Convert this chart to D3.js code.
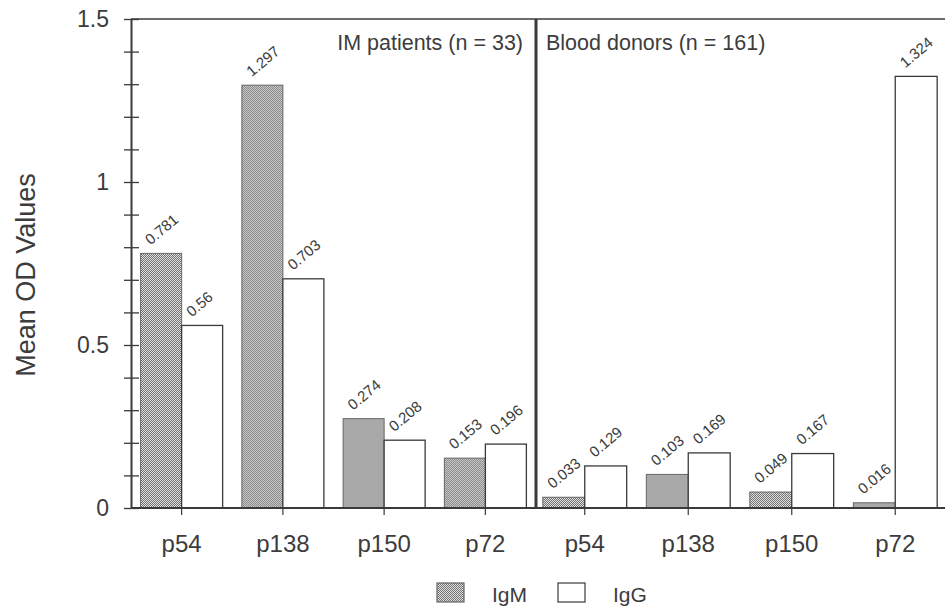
<!DOCTYPE html>
<html>
<head>
<meta charset="utf-8">
<script src="https://d3js.org/d3.v7.min.js"></script>
<style>
  html, body { margin: 0; padding: 0; background: #fff; }
  svg { display: block; font-family: "Liberation Sans", Arial, Helvetica, sans-serif; }
</style>
</head>
<body>
<svg id="chart" width="945" height="614"></svg>
<script>
// ---- data ----
const categories = ["p54", "p138", "p150", "p72"];
const panelLabels = ["IM patients (n = 33)", "Blood donors (n = 161)"];
const seriesNames = ["IgM", "IgG"];
const imIgM = [0.781, 1.297, 0.274, 0.153];
const imIgG = [0.56, 0.703, 0.208, 0.196];
const bdIgM = [0.033, 0.103, 0.049, 0.016];
const bdIgG = [0.129, 0.169, 0.167, 1.324];
const yTickValues = [0, 0.5, 1, 1.5];
const yTickLabels = ["0", "0.5", "1", "1.5"];
const yTitle = "Mean OD Values";

// ---- setup ----
const svg = d3.select("#chart");
const ink = "#3a3a3a";
const textInk = "#3c3c3c";

const defs = svg.append("defs");
const pat = defs.append("pattern")
  .attr("id", "dots").attr("patternUnits", "userSpaceOnUse")
  .attr("width", 2).attr("height", 2);
pat.append("rect").attr("width", 2).attr("height", 2).attr("fill", "#e0e0e0");
pat.append("rect").attr("x", 0).attr("y", 0).attr("width", 1).attr("height", 1).attr("fill", "#727272");
pat.append("rect").attr("x", 1).attr("y", 1).attr("width", 1).attr("height", 1).attr("fill", "#727272");

const y = d3.scaleLinear().domain([0, 1.5]).range([508, 19]);
const axisX = 131, rightEdge = 945, dividerX = 536;

const panels = [
  { label: panelLabels[0], igm: imIgM, igg: imIgG, range: [131, 536] },
  { label: panelLabels[1], igm: bdIgM, igg: bdIgG, range: [533, 947] }
];

panels.forEach((p, pi) => {
  const x = d3.scaleBand().domain(categories).range(p.range).padding(0);
  const bw = x.bandwidth();
  const sub = d3.scaleBand().domain(seriesNames).range([bw * 0.095, bw * 0.905]).padding(0);
  const rows = categories.map((c, i) => ({ cat: c, IgM: p.igm[i], IgG: p.igg[i] }));

  const g = svg.append("g");
  const grp = g.selectAll("g.cat").data(rows).join("g")
    .attr("transform", d => `translate(${x(d.cat)},0)`);

  seriesNames.forEach(s => {
    grp.append("rect")
      .attr("x", sub(s))
      .attr("y", d => y(d[s]))
      .attr("width", sub.bandwidth())
      .attr("height", d => y(0) - y(d[s]))
      .attr("fill", s === "IgM" ? "url(#dots)" : "#fff")
      .attr("stroke", s === "IgM" ? "#666" : ink)
      .attr("stroke-width", s === "IgM" ? 1 : 1.3);
    grp.append("text")
      .attr("transform", d => `translate(${sub(s) + 10},${y(d[s]) - 8}) rotate(-40)`)
      .attr("font-size", 15)
      .attr("fill", textInk)
      .text(d => String(d[s]));
  });

  // x axis ticks/labels
  const xa = svg.append("g").attr("transform", `translate(0,${y(0)})`)
    .call(d3.axisBottom(x).tickSize(7).tickPadding(20).tickSizeOuter(0));
  xa.select(".domain").remove();
  xa.selectAll("line").attr("stroke", ink).attr("stroke-width", 1.2);
  xa.selectAll("text").attr("font-size", 24).attr("fill", textInk)
    .attr("font-family", "\"Liberation Sans\", Arial, sans-serif");

  // panel label
  svg.append("text")
    .attr("x", pi === 0 ? dividerX - 13 : dividerX + 10)
    .attr("y", 50)
    .attr("text-anchor", pi === 0 ? "end" : "start")
    .attr("font-size", 21.5)
    .attr("fill", textInk)
    .text(p.label);
});

// frame lines
svg.append("line").attr("x1", axisX).attr("x2", rightEdge)
  .attr("y1", y(1.5)).attr("y2", y(1.5)).attr("stroke", ink).attr("stroke-width", 1.3);
svg.append("line").attr("x1", axisX).attr("x2", rightEdge)
  .attr("y1", y(0)).attr("y2", y(0)).attr("stroke", ink).attr("stroke-width", 2);
svg.append("line").attr("x1", dividerX).attr("x2", dividerX)
  .attr("y1", y(1.5)).attr("y2", y(0)).attr("stroke", ink).attr("stroke-width", 3);

// y axis
const ya = svg.append("g").attr("transform", `translate(${axisX},0)`)
  .call(d3.axisLeft(y).tickValues(y.ticks(15)).tickSize(7).tickPadding(15)
    .tickFormat(d => {
      const k = yTickValues.findIndex(v => Math.abs(v - d) < 1e-9);
      return k >= 0 ? yTickLabels[k] : "";
    }).tickSizeOuter(0));
ya.select(".domain").attr("stroke", ink).attr("stroke-width", 2);
ya.selectAll("line").attr("x1", 8).attr("x2", -7).attr("stroke", ink).attr("stroke-width", 1.3);
ya.selectAll("text").attr("font-size", 23).attr("fill", textInk)
  .attr("font-family", "\"Liberation Sans\", Arial, sans-serif");

// y title
svg.append("text")
  .attr("transform", `translate(35,275) rotate(-90)`)
  .attr("text-anchor", "middle")
  .attr("font-size", 27)
  .attr("fill", textInk)
  .text(yTitle);

// legend
const legendX = [437, 558];
seriesNames.forEach((s, i) => {
  svg.append("rect")
    .attr("x", legendX[i]).attr("y", 583).attr("width", 27).attr("height", 19)
    .attr("fill", s === "IgM" ? "url(#dots)" : "#fff")
    .attr("stroke", s === "IgM" ? "#666" : ink).attr("stroke-width", 1.2);
  svg.append("text")
    .attr("x", legendX[i] + 55).attr("y", 602)
    .attr("font-size", 21)
    .attr("fill", textInk)
    .text(s);
});
</script>
</body>
</html>
